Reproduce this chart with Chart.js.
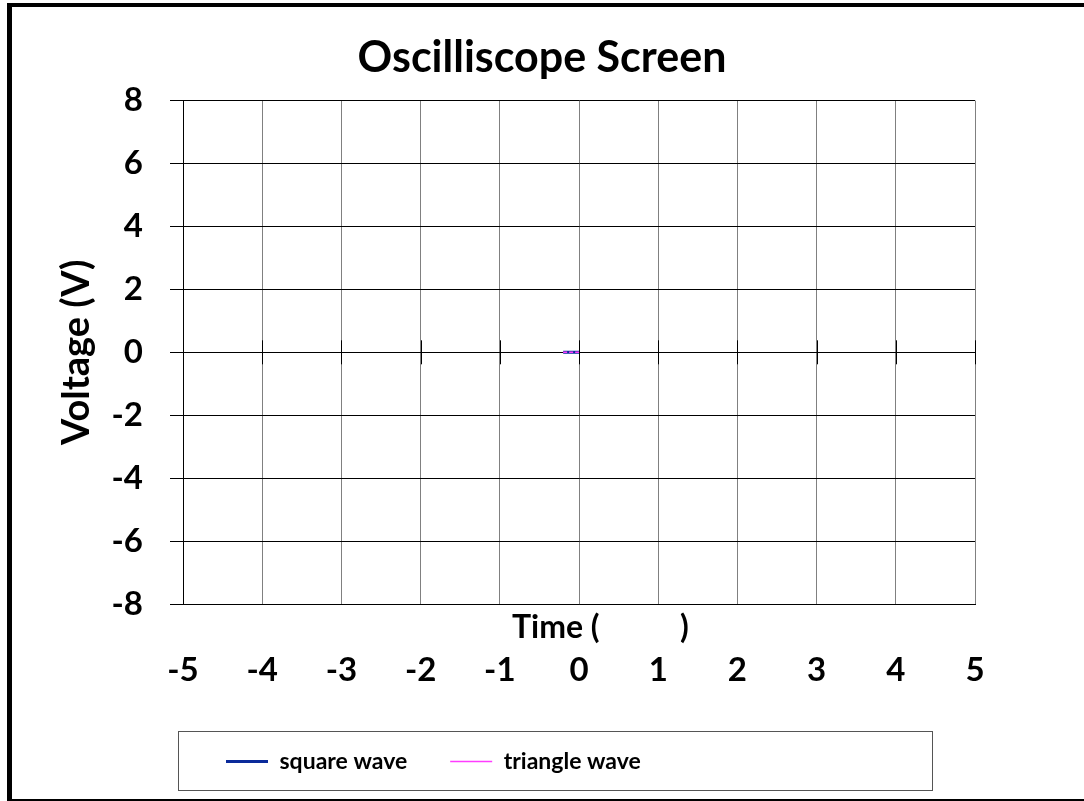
<!DOCTYPE html>
<html>
<head>
<meta charset="utf-8">
<script src="https://cdn.jsdelivr.net/npm/chart.js@4.4.1/dist/chart.umd.min.js"></script>
<style>
  html, body { margin: 0; padding: 0; background: #fff; }
  #wrap { width: 1084px; height: 801px; position: relative; }
</style>
</head>
<body>
<div id="wrap"><canvas id="scope" width="1084" height="801"></canvas></div>
<script>
// values
const timeValues = [-0.2, 0];
const squareValues = [0, 0];
const triangleValues = [0, 0];
const xTicks = [-5, -4, -3, -2, -1, 0, 1, 2, 3, 4, 5];
const yTicks = [-8, -6, -4, -2, 0, 2, 4, 6, 8];
const seriesNames = ['square wave', 'triangle wave'];

const FONT = 'Lato, "Liberation Sans", sans-serif';

const scopeDecor = {
    id: 'scopeDecor',
    beforeDraw(chart) {
        const ctx = chart.ctx;
        ctx.save();
        ctx.fillStyle = '#fff';
        ctx.fillRect(0, 0, chart.width, chart.height);
        ctx.restore();
    },
    beforeDatasetsDraw(chart) {
        // tick marks where the x axis crosses at zero
        const ctx = chart.ctx;
        const xs = chart.scales.x;
        const y0 = chart.scales.y.getPixelForValue(0);
        ctx.save();
        ctx.strokeStyle = '#000';
        ctx.lineWidth = 1;
        ctx.beginPath();
        xTicks.forEach(v => {
            const px = Math.round(xs.getPixelForValue(v)) + 0.5;
            ctx.moveTo(px, y0 - 12);
            ctx.lineTo(px, y0 + 12);
        });
        ctx.stroke();
        ctx.restore();
    },
    afterDraw(chart) {
        const ctx = chart.ctx;
        ctx.save();
        // outer frame
        ctx.fillStyle = '#000';
        ctx.fillRect(7, 3, 5, chart.height - 3);
        ctx.fillRect(7, 3, chart.width - 7, 4);
        ctx.fillRect(7, chart.height - 2, chart.width - 7, 2);

        // x axis title sits above the tick labels
        ctx.fillStyle = '#000';
        ctx.font = 'bold 32px ' + FONT;
        ctx.textBaseline = 'middle';
        ctx.textAlign = 'left';
        const a = chart.chartArea;
        ctx.fillText('Time (', 512, a.bottom + 24);
        ctx.fillText(')', 680, a.bottom + 24);

        // legend frame
        ctx.strokeStyle = '#555';
        ctx.lineWidth = 1;
        ctx.strokeRect(178.5, 731.5, 754, 59);
        ctx.restore();
    }
};

const ctx = document.getElementById('scope').getContext('2d');
const chart = new Chart(ctx, {
    type: 'line',
    data: {
        datasets: [{
            label: seriesNames[0],
            data: timeValues.map((t, i) => ({ x: t, y: squareValues[i] })),
            borderColor: '#0a2a9a',
            borderWidth: 3,
            pointRadius: 0,
            order: 1
        }, {
            label: seriesNames[1],
            data: timeValues.map((t, i) => ({ x: t, y: triangleValues[i] })),
            borderColor: '#ff3cff',
            borderWidth: 1.5,
            borderDash: [4, 2],
            pointRadius: 0,
            order: 0
        }]
    },
    options: {
        responsive: false,
        devicePixelRatio: 1,
        animation: false,
        layout: { padding: { left: 0, right: 0, top: 0, bottom: 18 } },
        plugins: {
            tooltip: { enabled: false },
            title: {
                display: true,
                text: 'Oscilliscope Screen',
                color: '#000',
                font: { family: FONT, size: 43, weight: 'bold' },
                padding: { top: 32, bottom: 17 }
            },
            legend: {
                position: 'bottom',
                fullSize: false,
                align: 'start',
                labels: {
                    usePointStyle: true,
                    pointStyle: 'line',
                    pointStyleWidth: 42,
                    padding: 43,
                    color: '#000',
                    font: { family: FONT, size: 23, weight: 'bold' },
                    sort: (a, b) => a.datasetIndex - b.datasetIndex
                }
            }
        },
        scales: {
            x: {
                type: 'linear',
                min: -5,
                max: 5,
                afterBuildTicks: s => { s.ticks = xTicks.map(v => ({ value: v })); },
                grid: { color: '#808080', drawTicks: false },
                border: { color: '#000', width: 1 },
                ticks: {
                    padding: 47,
                    color: '#000',
                    font: { family: FONT, size: 33, weight: 'bold' }
                },
                afterFit: s => { s.height = 103; }
            },
            y: {
                min: -8,
                max: 8,
                afterBuildTicks: s => { s.ticks = yTicks.map(v => ({ value: v })); },
                grid: { color: '#000', tickLength: 13 },
                border: { color: '#000', width: 1 },
                ticks: {
                    padding: 27,
                    color: '#000',
                    font: { family: FONT, size: 33, weight: 'bold' }
                },
                title: {
                    display: true,
                    text: 'Voltage (V)',
                    color: '#000',
                    font: { family: FONT, size: 38, weight: 'bold' },
                    padding: { top: 54, bottom: 0 }
                },
                afterFit: s => { s.width = 183; }
            },
            yRight: {
                position: 'right',
                display: true,
                grid: { display: false },
                border: { display: false },
                ticks: { display: false },
                afterFit: s => { s.width = 109; }
            }
        }
    },
    plugins: [scopeDecor]
});
</script>
</body>
</html>
